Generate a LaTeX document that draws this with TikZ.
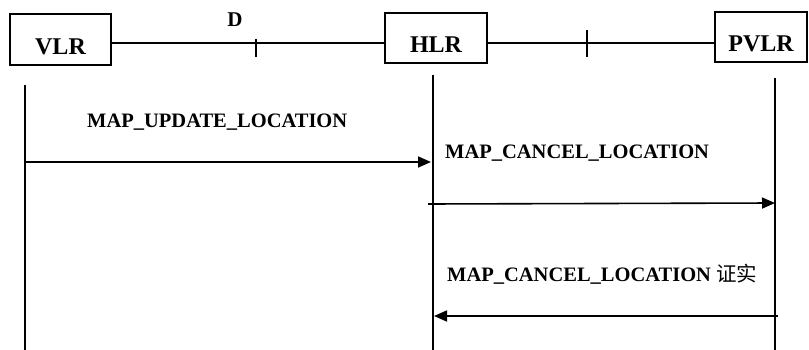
\documentclass[tikz,border=0pt]{standalone}
\usepackage{fontspec}
\setmainfont{Liberation Serif}
\newfontfamily\cjk{Noto Sans CJK SC}
\usetikzlibrary{arrows.meta}
\begin{document}
\begin{tikzpicture}[x=1pt,y=-1pt,
  entity/.style={draw,line width=1.3pt,inner sep=0pt,
    text height=30pt,text depth=0pt,
    font=\fontsize{24}{28}\selectfont\bfseries},
  link/.style={line width=1.2pt},
  lifeline/.style={line width=1.3pt},
  msg/.style={line width=1.6pt,-{Triangle[length=13pt,width=11pt]}},
  msglabel/.style={anchor=base west,inner sep=0pt,
    font=\fontsize{20.5}{24}\selectfont\bfseries}]
\useasboundingbox[fill=white] (0,0) rectangle (809,350);

% network entities
\node[entity,minimum width=101pt,minimum height=51pt] (VLR) at (60.5,39.5) {VLR};
\node[entity,minimum width=102pt,minimum height=50pt] (HLR) at (436,38) {HLR};
\node[entity,minimum width=92pt,minimum height=50pt] (PVLR) at (761,37) {PVLR};

% interfaces between the entities
\coordinate (l1a) at (VLR.east |- 0,43);
\coordinate (l1b) at (HLR.west |- 0,43);
\coordinate (l2a) at (HLR.east |- 0,43);
\coordinate (l2b) at (PVLR.west |- 0,43);
\draw[link] (l1a) -- (l1b);
\draw[link] (l2a) -- (l2b);
\coordinate (t1a) at (256,39);
\coordinate (t1b) at (256,57);
\coordinate (t2a) at (587,30);
\coordinate (t2b) at (587,57);
\draw[link] (t1a) -- (t1b);
\draw[link] (t2a) -- (t2b);
\node[anchor=base,inner sep=0pt,font=\fontsize{21}{24}\selectfont\bfseries] (D) at (235,27) {D};

% lifelines
\coordinate (v0) at (25,85);   \coordinate (v1) at (25,350);
\coordinate (h0) at (433,75);  \coordinate (h1) at (433,350);
\coordinate (p0) at (775,78);  \coordinate (p1) at (775,350);
\draw[lifeline] (v0) -- (v1);
\draw[lifeline] (h0) -- (h1);
\draw[lifeline] (p0) -- (p1);

% messages
\coordinate (m1s) at (25,162);  \coordinate (m1e) at (431,162);
\coordinate (m2s) at (428,204); \coordinate (m2e) at (775,203);
\coordinate (m3s) at (778,316); \coordinate (m3e) at (434,316);
\draw[msg] (m1s) -- (m1e);
\draw[msg] (m2s) -- (m2e);
\draw[msg] (m3s) -- (m3e);

\node[msglabel] (t1) at (87,128) {MAP\_UPDATE\_LOCATION};
\node[msglabel] (t2) at (445,159) {MAP\_CANCEL\_LOCATION};
\node[msglabel] (t3) at (447,281) {MAP\_CANCEL\_LOCATION {\cjk\mdseries 证实}};
\end{tikzpicture}
\end{document}
